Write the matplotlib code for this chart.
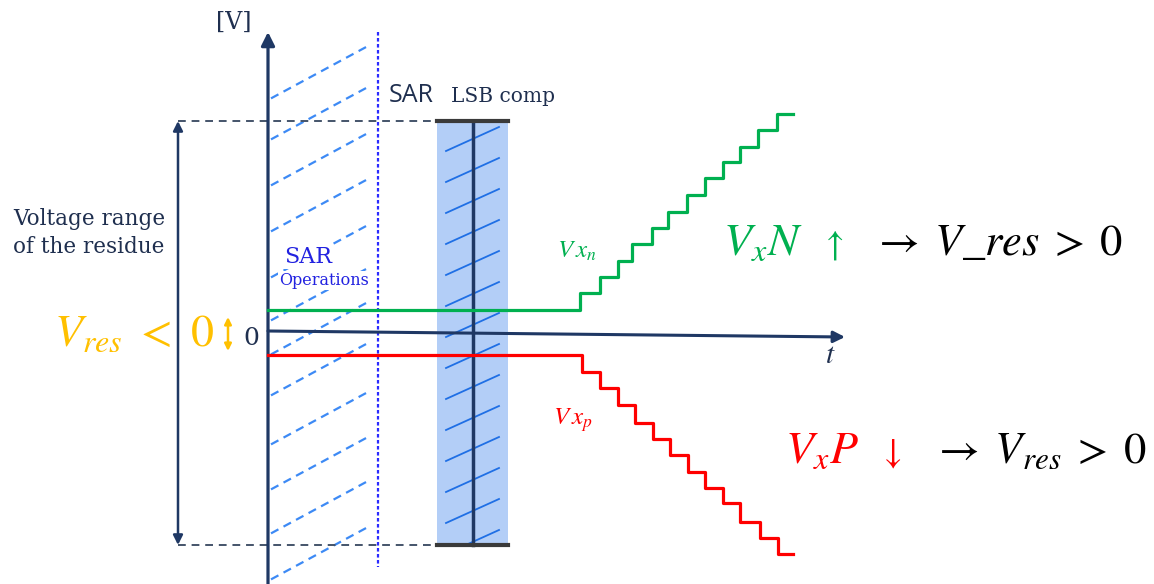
import numpy as np
import matplotlib
matplotlib.use('Agg')
import matplotlib.pyplot as plt
import matplotlib.patches as patches

plt.rcParams['mathtext.fontset'] = 'stix'

# diagram coords: t = time (px from V axis), v = voltage (px above t axis)
# green residue Vx_n : step edges and levels
vxn_t = [0, 312, 332, 350, 364, 384, 400, 419, 437, 455, 472, 490, 509, 525]
vxn_v = [22, 39, 55, 71, 88, 104, 120, 137, 154, 170, 185, 202, 218, 218]
# red residue Vx_p
vxp_t = [0, 314, 332, 350, 367, 385, 402, 420, 437, 455, 472, 492, 510, 525]
vxp_v = [-23, -40, -56, -73, -91, -107, -123, -140, -156, -171, -190, -206, -222, -222]

v_top, v_bot = 211, -213          # voltage range of the residue
lsb_t0, lsb_t1, lsb_mid = 169, 240, 205   # SAR LSB comp window
sar_end = 110                      # end of SAR operations
hatch_v0 = [232, 191, 145, 99, 53, 10, -24, -65, -114, -159, -203, -249]

navy = '#1f3864'
txt = '#1f2f4f'
green = '#00b050'
red = '#ff0000'
gold = '#ffc000'

fig = plt.figure(figsize=(11.54, 5.84), dpi=100)
ax = fig.add_axes([0, 0, 1, 1])
ax.set_xlim(-268, 886)
ax.set_ylim(-252, 332)
ax.axis('off')

# SAR operations dashed hatch
for v0 in hatch_v0:
    tt = np.array([3, 100])
    ax.plot(tt, v0 + 0.54 * tt, color='#3d8af5', lw=1.6, ls=(0, (3.8, 2.6)), zorder=1)
ax.text(40, 69, 'SAR', color='#2222e0', fontsize=16, family='DejaVu Serif', ha='center',
        va='baseline', bbox=dict(fc='white', ec='none', pad=1), zorder=2)
ax.text(56, 47, 'Operations', color='#2222e0', fontsize=11.5, family='DejaVu Serif',
        ha='center', va='baseline', bbox=dict(fc='white', ec='none', pad=1), zorder=2)
ax.plot([sar_end, sar_end], [300, -235], color='#2b2bff', lw=1.6, ls=(0, (1.6, 1.1)), zorder=2)

# LSB comp window
win = patches.Rectangle((lsb_t0, v_bot), lsb_t1 - lsb_t0, v_top - v_bot,
                        fc='#b3cef7', ec='none', zorder=1)
ax.add_patch(win)
for vr in np.arange(205, v_bot, -31):
    ln, = ax.plot([178, 231], [vr - 24, vr], color='#1f6fe5', lw=1.3, zorder=2)
    ln.set_clip_path(win)
ax.plot([lsb_mid, lsb_mid], [v_top, v_bot], color=navy, lw=2.5, zorder=3)
for v in (v_top, v_bot):
    ax.plot([lsb_t0, lsb_t1], [v, v], color='#3a3a3a', lw=3, zorder=3)
    ax.plot([-90, lsb_t0], [v, v], color='#44546a', lw=1.4, ls=(0, (4, 3)), zorder=2)
ax.text(121, 230, 'SAR', color=txt, fontsize=18, family='Open Sans', ha='left', va='baseline')
ax.text(183, 230, 'LSB comp', color=txt, fontsize=14.5, family='DejaVu Serif', ha='left', va='baseline')

# axes
ax.annotate('', xy=(0, 300), xytext=(0, -252),
            arrowprops=dict(arrowstyle='-|>', lw=2.3, color=navy, mutation_scale=20,
                            shrinkA=0, shrinkB=0), zorder=4)
ax.annotate('', xy=(577, -5), xytext=(0, 1),
            arrowprops=dict(arrowstyle='-|>', lw=2.2, color=navy, mutation_scale=17,
                            shrinkA=0, shrinkB=0), zorder=4)
ax.text(-34, 310, '[V]', color=txt, fontsize=17, family='DejaVu Serif', ha='center', va='center')
ax.text(-16.5, -13, '0', color=txt, fontsize=18, family='DejaVu Serif', ha='center', va='baseline')
ax.text(562, -23, '$t$', color=txt, fontsize=21, ha='center', va='center')

# voltage range arrow
ax.annotate('', xy=(-90, v_top), xytext=(-90, v_bot),
            arrowprops=dict(arrowstyle='<|-|>', lw=1.8, color=navy, mutation_scale=14,
                            shrinkA=0, shrinkB=0))
ax.text(-179, 99, 'Voltage range\nof the residue', color=txt, fontsize=15.5,
        family='DejaVu Serif', ha='center', va='center', linespacing=1.35)

# Vres < 0
ax.text(-54, -14, r'$V_{res}\ <\ 0$', color=gold, fontsize=33, ha='right', va='baseline')
ax.annotate('', xy=(-40, 15), xytext=(-40, -19),
            arrowprops=dict(arrowstyle='<|-|>', lw=1.8, color=gold, mutation_scale=10,
                            shrinkA=0, shrinkB=0))

# residues
ax.step(vxn_t, vxn_v, where='post', color=green, lw=2.3, zorder=5)
ax.step(vxp_t, vxp_v, where='post', color=red, lw=2.3, zorder=5)
ax.text(289, 74, r'$V\,x_n$', color=green, fontsize=18, ha='left', va='baseline')
ax.text(285, -93, r'$V\,x_p$', color=red, fontsize=18, ha='left', va='baseline')

ax.text(455, 77, r'$V_xN$', color=green, fontsize=33, ha='left', va='baseline')
ax.text(564, 77, r'$\uparrow$', color=green, fontsize=26, ha='center', va='baseline')
ax.text(855, 77, r'$\rightarrow\;V\_res\;>\;0$', color='black', fontsize=32, ha='right', va='baseline')
ax.text(517, -131, r'$V_xP$', color=red, fontsize=33, ha='left', va='baseline')
ax.text(622, -131, r'$\downarrow$', color=red, fontsize=26, ha='center', va='baseline')
ax.text(879, -131, r'$\rightarrow\;V_{res}\;>\;0$', color='black', fontsize=32, ha='right', va='baseline')

fig.savefig('out.png', dpi=100)
